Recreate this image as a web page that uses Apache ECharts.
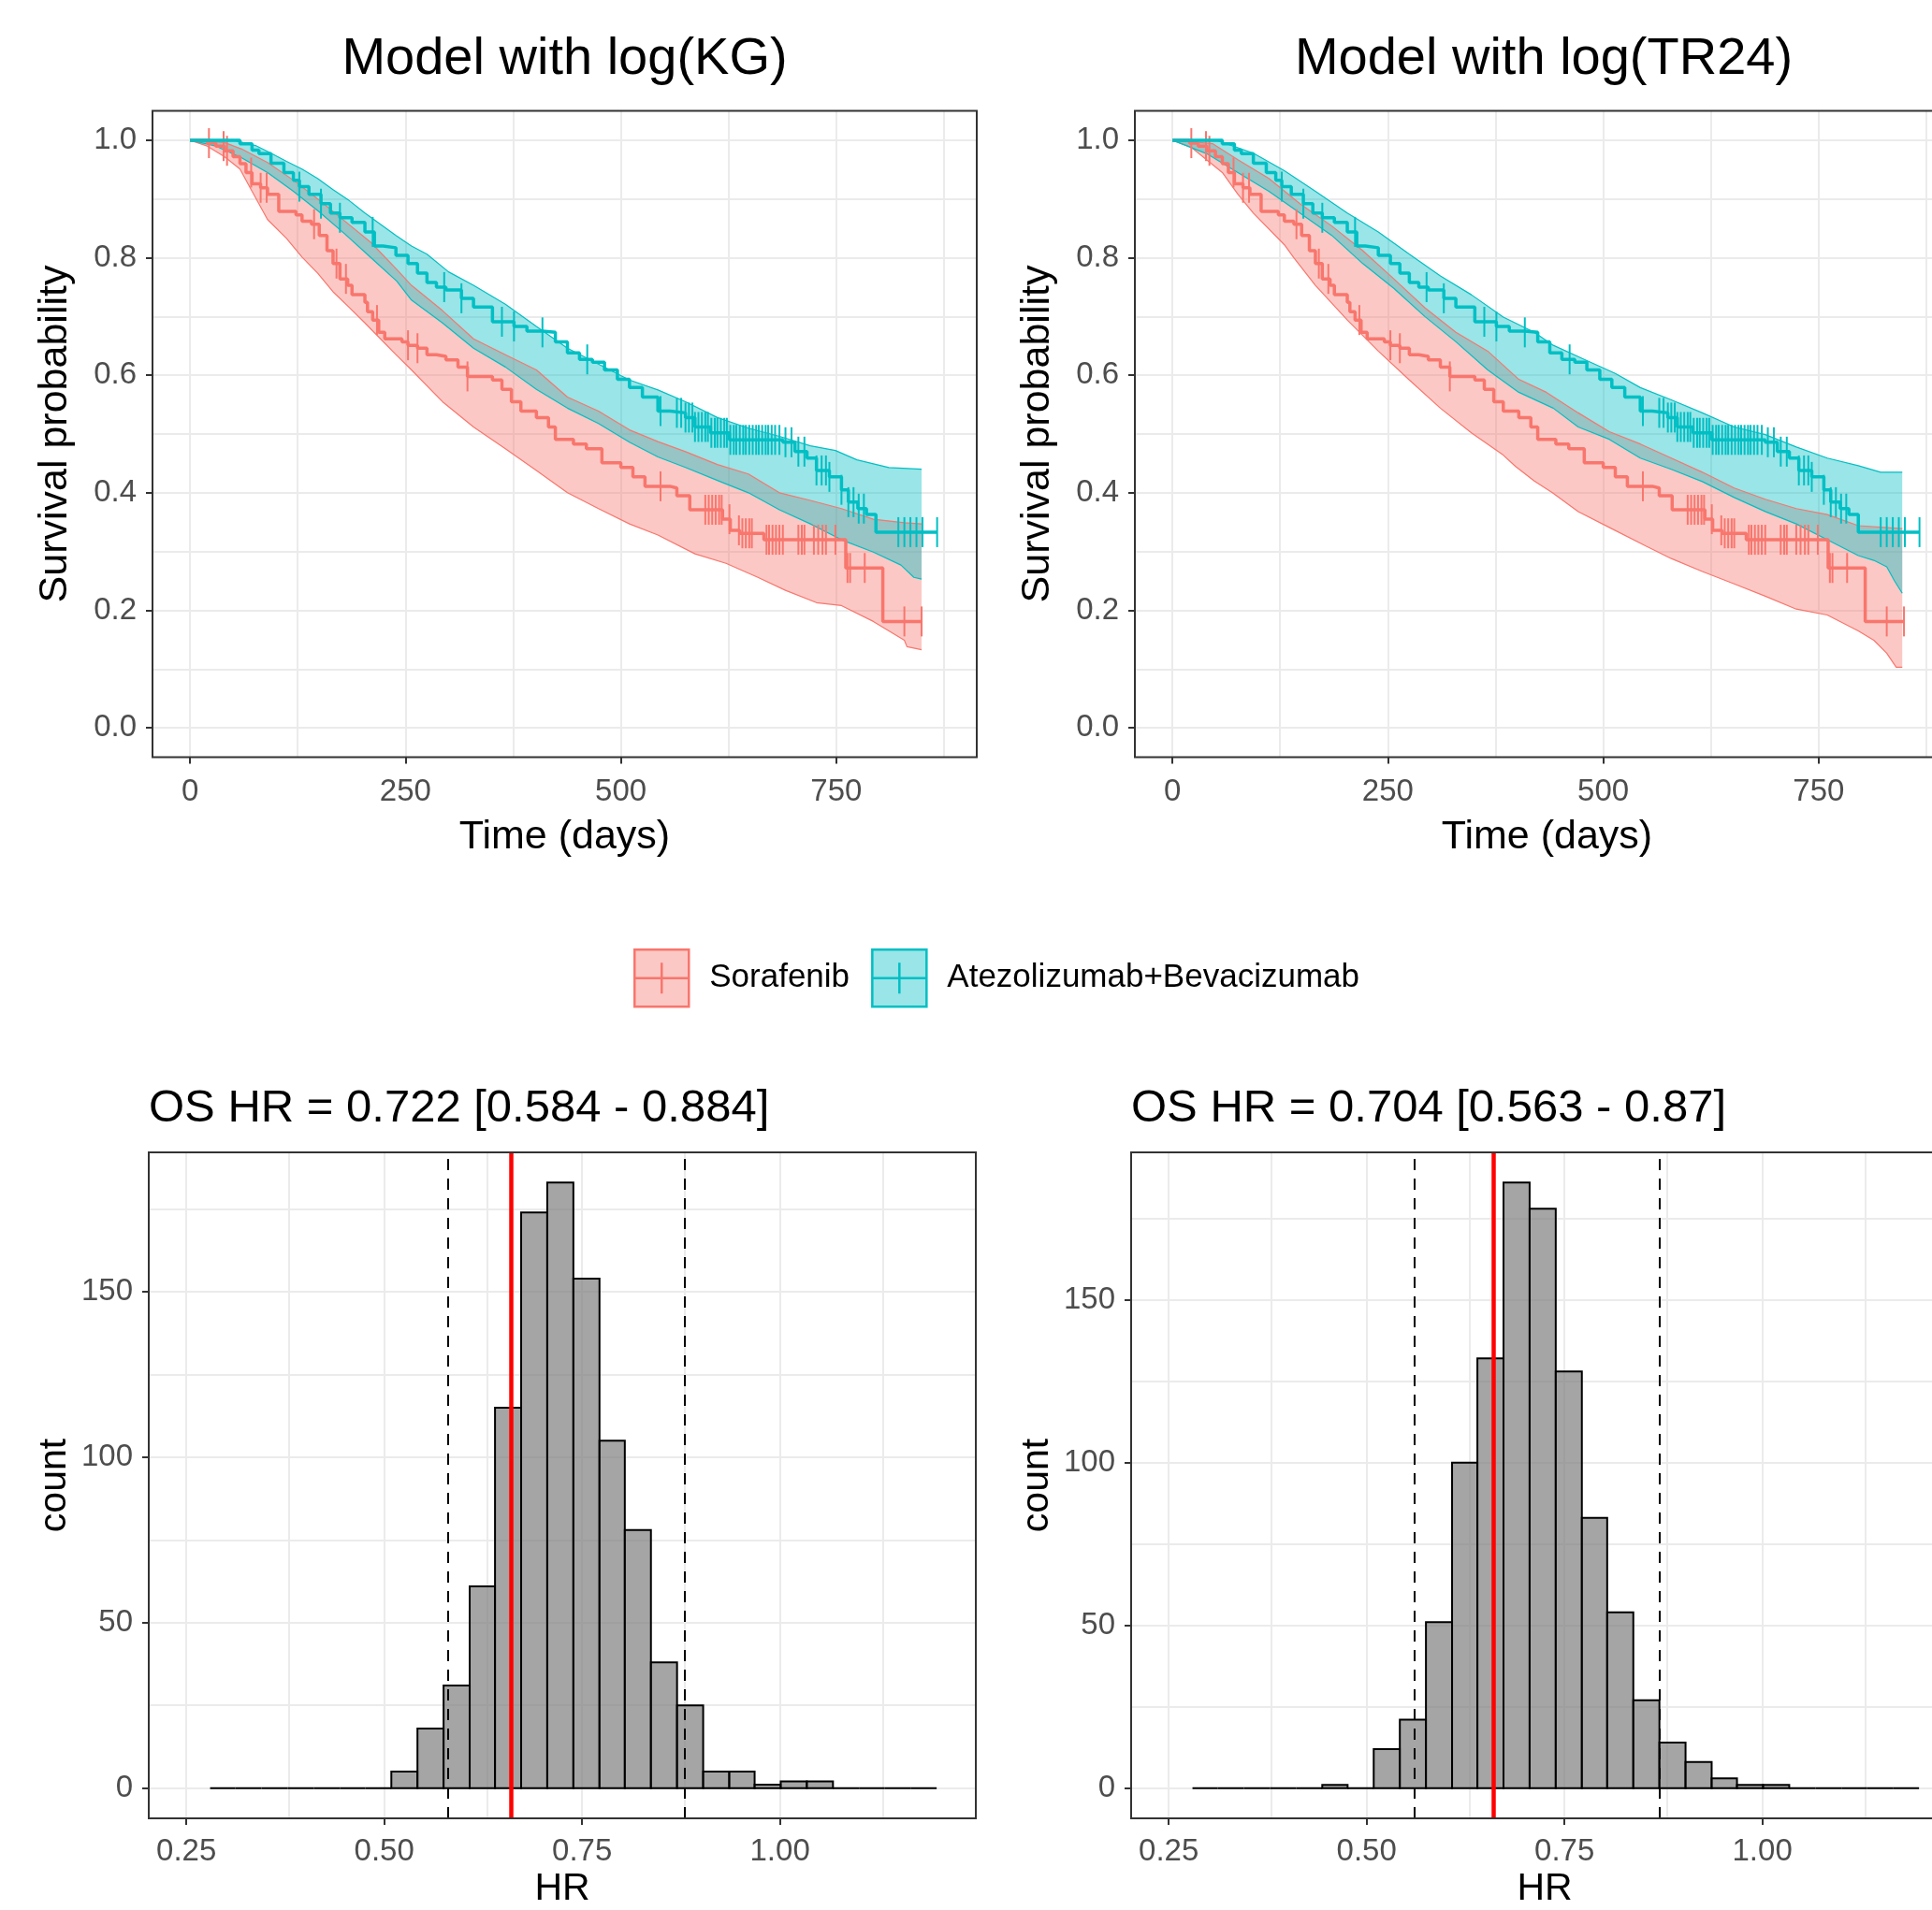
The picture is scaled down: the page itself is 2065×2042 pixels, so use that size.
<!DOCTYPE html>
<html><head><meta charset="utf-8">
<script src="https://cdn.jsdelivr.net/npm/echarts@6/dist/echarts.min.js"></script>
<style>html,body{margin:0;padding:0;background:#fff;overflow:hidden}#c{width:2110px;height:2042px}</style>
</head><body><div id="c"></div>
<script>
// ---------------- text ----------------
const panelTitles = ['Model with log(KG)', 'Model with log(TR24)'];
const hrTitles = ['OS HR = 0.722 [0.584 - 0.884]', 'OS HR = 0.704 [0.563 - 0.87]'];
const armNames = ['Sorafenib', 'Atezolizumab+Bevacizumab'];

// ---------------- ticks ----------------
const kmXTicks = [0, 250, 500, 750];
const kmXTickLabels = ['0', '250', '500', '750'];
const kmYTicks = [0, 0.2, 0.4, 0.6, 0.8, 1.0];
const kmYTickLabels = ['0.0', '0.2', '0.4', '0.6', '0.8', '1.0'];
const kmXGrid = [0, 125, 250, 375, 500, 625, 750, 875];
const kmYGrid = [0, 0.1, 0.2, 0.3, 0.4, 0.5, 0.6, 0.7, 0.8, 0.9, 1.0];
const hrXTicks = [0.25, 0.5, 0.75, 1.0];
const hrXTickLabels = ['0.25', '0.50', '0.75', '1.00'];
const hrYTicks = [0, 50, 100, 150];
const hrYTickLabels = ['0', '50', '100', '150'];
const hrXGrid = [0.25, 0.375, 0.5, 0.625, 0.75, 0.875, 1.0, 1.125];
const hrYGrid = [0, 25, 50, 75, 100, 125, 150, 175];

// ---------------- Kaplan-Meier (observed) ----------------
const kmSora = [[0,1],[20,0.995],[30,0.99],[40,0.982],[50,0.972],[58,0.96],[65,0.945],[72,0.926],[82,0.919],[90,0.908],[103,0.879],[123,0.873],[130,0.862],[141,0.857],[150,0.838],[159,0.812],[166,0.79],[174,0.764],[183,0.753],[188,0.737],[203,0.724],[206,0.708],[212,0.694],[219,0.673],[226,0.662],[246,0.657],[253,0.651],[264,0.646],[275,0.635],[286,0.632],[297,0.626],[311,0.614],[322,0.598],[351,0.592],[362,0.576],[373,0.555],[384,0.539],[402,0.528],[416,0.512],[424,0.491],[445,0.483],[460,0.475],[478,0.451],[500,0.443],[514,0.427],[528,0.411],[557,0.408],[565,0.395],[580,0.371],[618,0.355],[627,0.336],[638,0.331],[666,0.32],[761,0.272],[804,0.181],[849,0.181]];
const kmAtezo = [[0,1],[47,1],[58,0.994],[72,0.983],[80,0.977],[94,0.961],[109,0.945],[120,0.932],[127,0.921],[138,0.908],[152,0.892],[163,0.876],[174,0.868],[188,0.86],[203,0.844],[214,0.82],[224,0.817],[239,0.804],[253,0.79],[264,0.774],[275,0.758],[286,0.75],[297,0.745],[315,0.731],[329,0.716],[351,0.691],[376,0.683],[391,0.675],[409,0.673],[424,0.657],[438,0.638],[452,0.627],[467,0.622],[481,0.609],[496,0.593],[510,0.579],[525,0.563],[543,0.539],[557,0.536],[575,0.528],[586,0.512],[604,0.502],[626,0.49],[688,0.486],[702,0.47],[716,0.459],[727,0.438],[742,0.427],[756,0.405],[764,0.384],[775,0.373],[785,0.363],[796,0.333],[867,0.333]];
const censorSora = [22,39,43,71,82,89,144,170,181,217,253,264,322,546,598,602,606,610,614,617,626,637,641,645,649,652,669,672,676,680,684,688,706,710,713,724,729,734,738,749,763,766,783,829,849];
const censorAtezo = [127,152,174,212,295,315,362,376,409,461,546,565,570,575,579,583,586,590,594,598,601,605,609,612,616,620,623,627,631,634,638,642,645,649,653,657,660,664,668,671,675,679,684,691,698,706,713,727,733,738,742,756,764,770,776,782,822,829,836,843,850,867];

// ---------------- predicted bands, model with log(KG) ----------------
const kgSoraUpper = [[0,1],[40,0.996],[60,0.985],[90,0.962],[120,0.932],[150,0.898],[180,0.862],[210,0.826],[240,0.78],[257,0.753],[293,0.71],[329,0.662],[366,0.635],[402,0.609],[438,0.563],[474,0.539],[510,0.507],[543,0.487],[575,0.47],[612,0.448],[648,0.432],[684,0.4],[720,0.387],[756,0.373],[793,0.355],[829,0.349],[849,0.347]];
const kgSoraLower = [[0,1],[20,0.99],[40,0.972],[58,0.951],[72,0.913],[90,0.865],[112,0.833],[130,0.801],[148,0.774],[166,0.742],[185,0.715],[203,0.689],[221,0.662],[239,0.635],[257,0.609],[293,0.555],[329,0.512],[366,0.475],[402,0.438],[438,0.4],[474,0.373],[510,0.347],[543,0.328],[586,0.296],[622,0.28],[659,0.256],[691,0.234],[727,0.213],[756,0.208],[793,0.181],[829,0.149],[832,0.138],[849,0.133]];
const kgAtezoUpper = [[0,1],[50,1],[76,0.991],[94,0.978],[112,0.964],[130,0.951],[148,0.935],[166,0.916],[185,0.897],[203,0.876],[221,0.857],[239,0.838],[257,0.82],[275,0.806],[300,0.776],[329,0.753],[366,0.721],[402,0.683],[438,0.646],[474,0.619],[510,0.592],[543,0.575],[575,0.555],[612,0.528],[648,0.51],[684,0.496],[720,0.48],[749,0.472],[774,0.456],[811,0.443],[849,0.44]];
const kgAtezoLower = [[0,1],[30,0.99],[60,0.97],[90,0.945],[120,0.913],[150,0.878],[180,0.84],[210,0.8],[240,0.76],[257,0.728],[293,0.689],[329,0.646],[366,0.614],[402,0.576],[438,0.544],[474,0.518],[510,0.486],[543,0.461],[575,0.443],[612,0.421],[648,0.4],[684,0.371],[720,0.347],[756,0.32],[793,0.299],[825,0.277],[840,0.256],[849,0.253]];

// ---------------- predicted bands, model with log(TR24) ----------------
const trSoraUpper = [[0,1],[47,0.994],[76,0.967],[112,0.935],[148,0.892],[185,0.854],[221,0.812],[257,0.764],[293,0.715],[329,0.673],[366,0.641],[402,0.593],[434,0.571],[471,0.536],[507,0.504],[543,0.483],[579,0.459],[615,0.435],[652,0.408],[688,0.389],[724,0.373],[760,0.363],[796,0.344],[847,0.339]];
const trSoraLower = [[0,1],[22,0.988],[58,0.945],[76,0.908],[94,0.876],[130,0.822],[141,0.8],[166,0.753],[203,0.694],[239,0.641],[275,0.592],[311,0.544],[347,0.502],[384,0.464],[398,0.445],[420,0.42],[441,0.4],[471,0.368],[507,0.341],[550,0.309],[579,0.288],[615,0.266],[652,0.245],[688,0.224],[724,0.202],[760,0.192],[796,0.165],[814,0.149],[829,0.127],[840,0.103],[847,0.103]];
const trAtezoUpper = [[0,1],[51,1],[94,0.978],[130,0.948],[166,0.913],[203,0.876],[239,0.844],[275,0.806],[311,0.769],[347,0.737],[384,0.699],[420,0.673],[442,0.651],[478,0.627],[514,0.603],[543,0.579],[579,0.558],[615,0.536],[652,0.512],[688,0.499],[724,0.478],[760,0.459],[796,0.446],[822,0.435],[847,0.435]];
const trAtezoLower = [[0,1],[40,0.977],[76,0.945],[112,0.913],[148,0.876],[185,0.838],[221,0.79],[257,0.748],[293,0.7],[329,0.657],[366,0.609],[402,0.571],[442,0.544],[471,0.512],[507,0.491],[543,0.459],[579,0.44],[615,0.419],[652,0.392],[688,0.368],[724,0.347],[760,0.32],[796,0.293],[814,0.285],[829,0.274],[838,0.25],[847,0.229]];

// ---------------- bootstrap HR histograms ----------------
const binEdges = [0.280,0.312,0.345,0.378,0.411,0.444,0.476,0.509,0.542,0.575,0.608,0.640,0.673,0.706,0.739,0.772,0.804,0.837,0.870,0.903,0.936,0.968,1.001,1.034,1.067,1.100,1.132,1.165,1.198];
const kgCounts   = [0,0,0,0,0,0,0,5,18,31,61,115,174,183,154,105,78,38,25,5,5,1,2,2,0,0,0,0];
const tr24Counts = [0,0,0,0,0,1,0,12,21,51,100,132,186,178,128,83,54,27,14,8,3,1,1,0,0,0,0,0];
const hrObserved = [0.661, 0.66];
const kgCI = [0.584, 0.884];
const tr24CI = [0.563, 0.87];

// ---------------- styling ----------------
const FONT = '"Liberation Sans", Arial, Helvetica, sans-serif';
const RED = '#F8766D', TEAL = '#00BFC4';
const RED_FILL = 'rgba(248,118,109,0.4)', TEAL_FILL = 'rgba(0,191,196,0.4)';
const GRIDC = '#EBEBEB';

function kmAt(km, t) {
  let s = km[0][1];
  for (const p of km) { if (p[0] <= t) s = p[1]; else break; }
  return s;
}
function fmtFrom(ticks, labels) {
  return v => { const i = ticks.findIndex(t => Math.abs(t - v) < 1e-9); return i >= 0 ? labels[i] : ''; };
}
function mkAxis(g, min, max, ticks, labels, name, nameGap, nameSize, labelMargin) {
  return {
    type: 'value', gridIndex: g, min: min, max: max,
    name: name, nameLocation: 'middle', nameGap: nameGap,
    nameTextStyle: { fontSize: nameSize, color: '#000', fontFamily: FONT },
    axisLine: { show: false, onZero: false },
    axisTick: { show: true, customValues: ticks, length: 7, lineStyle: { color: '#333333', width: 2 } },
    axisLabel: { customValues: ticks, formatter: fmtFrom(ticks, labels), fontSize: 33, color: '#4D4D4D', fontFamily: FONT, margin: labelMargin },
    splitLine: { show: false }
  };
}
function gridLinesSeries(g, xs, ys) {
  return {
    type: 'line', xAxisIndex: g, yAxisIndex: g, data: [], silent: true,
    markLine: {
      silent: true, symbol: 'none', z: 1, animation: false,
      label: { show: false },
      lineStyle: { color: GRIDC, width: 2, type: 'solid' },
      emphasis: { disabled: true },
      data: xs.map(v => ({ xAxis: v })).concat(ys.map(v => ({ yAxis: v })))
    }
  };
}
function bandSeries(g, name, upper, lower, fill, color) {
  return [
    {
      type: 'custom', name: name, xAxisIndex: g, yAxisIndex: g, silent: true, z: 2,
      data: [[upper[0][0], upper[0][1]]],
      renderItem: (params, api) => {
        const pts = upper.map(d => api.coord(d)).concat(lower.slice().reverse().map(d => api.coord(d)));
        return { type: 'polygon', shape: { points: pts }, style: { fill: fill } };
      }
    },
    { type: 'line', xAxisIndex: g, yAxisIndex: g, data: upper, symbol: 'none', silent: true, z: 2, lineStyle: { color: color, width: 1.2 } },
    { type: 'line', xAxisIndex: g, yAxisIndex: g, data: lower, symbol: 'none', silent: true, z: 2, lineStyle: { color: color, width: 1.2 } }
  ];
}
function kmSeries(g, km, color) {
  return { type: 'line', xAxisIndex: g, yAxisIndex: g, data: km, step: 'end', symbol: 'none', silent: true, z: 3, lineStyle: { color: color, width: 3.5 } };
}
function censorSeries(g, times, km, color) {
  return {
    type: 'custom', xAxisIndex: g, yAxisIndex: g, silent: true, z: 3,
    data: times.map(t => [t, kmAt(km, t)]),
    renderItem: (params, api) => {
      const c = api.coord([api.value(0), api.value(1)]);
      return { type: 'line', shape: { x1: c[0], y1: c[1] - 16, x2: c[0], y2: c[1] + 16 }, style: { stroke: color, lineWidth: 2 } };
    }
  };
}
function histSeries(g, counts, obs, ci) {
  return {
    type: 'custom', xAxisIndex: g, yAxisIndex: g, silent: true, z: 2,
    data: counts.map((c, i) => [binEdges[i], binEdges[i + 1], c]),
    encode: { x: [0, 1], y: 2 },
    renderItem: (params, api) => {
      const p0 = api.coord([api.value(0), api.value(2)]);
      const p1 = api.coord([api.value(1), 0]);
      return { type: 'rect', shape: { x: p0[0], y: p0[1], width: p1[0] - p0[0], height: p1[1] - p0[1] },
               style: { fill: 'rgba(127,127,127,0.7)', stroke: '#000000', lineWidth: 2 } };
    },
    markLine: {
      silent: true, symbol: 'none', z: 5, animation: false, label: { show: false },
      emphasis: { disabled: true },
      data: [
        { xAxis: ci[0], lineStyle: { color: '#000', width: 2, type: [12, 9] } },
        { xAxis: ci[1], lineStyle: { color: '#000', width: 2, type: [12, 9] } },
        { xAxis: obs, lineStyle: { color: '#FF0000', width: 4.5, type: 'solid' } }
      ]
    }
  };
}

const gridStyle = { show: true, borderColor: '#333333', borderWidth: 2, backgroundColor: 'rgba(0,0,0,0)', z: 10 };
const grids = [
  Object.assign({ left: 163, top: 118.5, width: 881, height: 691 }, gridStyle),
  Object.assign({ left: 1213, top: 118.5, width: 881, height: 691 }, gridStyle),
  Object.assign({ left: 159, top: 1232, width: 884, height: 712 }, gridStyle),
  Object.assign({ left: 1209, top: 1232, width: 884, height: 712 }, gridStyle)
];

const xAxes = [
  mkAxis(0, -43.5, 913, kmXTicks, kmXTickLabels, 'Time (days)', 64, 43, 21),
  mkAxis(1, -43.5, 913, kmXTicks, kmXTickLabels, 'Time (days)', 64, 43, 21),
  mkAxis(2, 0.2025, 1.2475, hrXTicks, hrXTickLabels, 'HR', 55, 41, 19),
  mkAxis(3, 0.2025, 1.2475, hrXTicks, hrXTickLabels, 'HR', 55, 41, 19)
];
const yAxes = [
  mkAxis(0, -0.05, 1.05, kmYTicks, kmYTickLabels, 'Survival probability', 82, 43, 17),
  mkAxis(1, -0.05, 1.05, kmYTicks, kmYTickLabels, 'Survival probability', 82, 43, 17),
  mkAxis(2, -9.15, 192.15, hrYTicks, hrYTickLabels, 'count', 80, 41, 17),
  mkAxis(3, -9.3, 195.3, hrYTicks, hrYTickLabels, 'count', 80, 41, 17)
];

const bands = [
  [kgSoraUpper, kgSoraLower, kgAtezoUpper, kgAtezoLower],
  [trSoraUpper, trSoraLower, trAtezoUpper, trAtezoLower]
];

let series = [];
[0, 1].forEach(g => {
  const b = bands[g];
  series.push(gridLinesSeries(g, kmXGrid, kmYGrid));
  series = series.concat(bandSeries(g, armNames[0], b[0], b[1], RED_FILL, RED));
  series = series.concat(bandSeries(g, armNames[1], b[2], b[3], TEAL_FILL, TEAL));
  series.push(kmSeries(g, kmSora, RED));
  series.push(kmSeries(g, kmAtezo, TEAL));
  series.push(censorSeries(g, censorSora, kmSora, RED));
  series.push(censorSeries(g, censorAtezo, kmAtezo, TEAL));
});
series.push(gridLinesSeries(2, hrXGrid, hrYGrid));
series.push(histSeries(2, kgCounts, hrObserved[0], kgCI));
series.push(gridLinesSeries(3, hrXGrid, hrYGrid));
series.push(histSeries(3, tr24Counts, hrObserved[1], tr24CI));

const legendIcon = 'path://M0,0H58V61H0Z M0,30.5H58 M29,14V47';

const option = {
  animation: false,
  backgroundColor: '#ffffff',
  grid: grids, xAxis: xAxes, yAxis: yAxes, series: series,
  legend: {
    left: 672, top: 1009, orient: 'horizontal',
    itemWidth: 58, itemHeight: 61, itemGap: 23, selectedMode: false,
    textStyle: { fontSize: 35, color: '#000', fontFamily: FONT, padding: [0, 0, 0, 17] },
    data: [
      { name: armNames[0], icon: legendIcon, itemStyle: { color: RED_FILL, borderColor: RED, borderWidth: 2.5 } },
      { name: armNames[1], icon: legendIcon, itemStyle: { color: TEAL_FILL, borderColor: TEAL, borderWidth: 2.5 } }
    ]
  },
  graphic: [
    { type: 'text', x: 603.5, y: 64, style: { text: panelTitles[0], font: '56px ' + FONT, fill: '#000', align: 'center', verticalAlign: 'middle' } },
    { type: 'text', x: 1650, y: 64, style: { text: panelTitles[1], font: '56px ' + FONT, fill: '#000', align: 'center', verticalAlign: 'middle' } },
    { type: 'text', x: 159, y: 1185, style: { text: hrTitles[0], font: '49px ' + FONT, fill: '#000', align: 'left', verticalAlign: 'middle' } },
    { type: 'text', x: 1209, y: 1185, style: { text: hrTitles[1], font: '49px ' + FONT, fill: '#000', align: 'left', verticalAlign: 'middle' } }
  ]
};

const chart = echarts.init(document.getElementById('c'), null, { renderer: 'canvas' });
chart.setOption(option);
</script></body></html>
